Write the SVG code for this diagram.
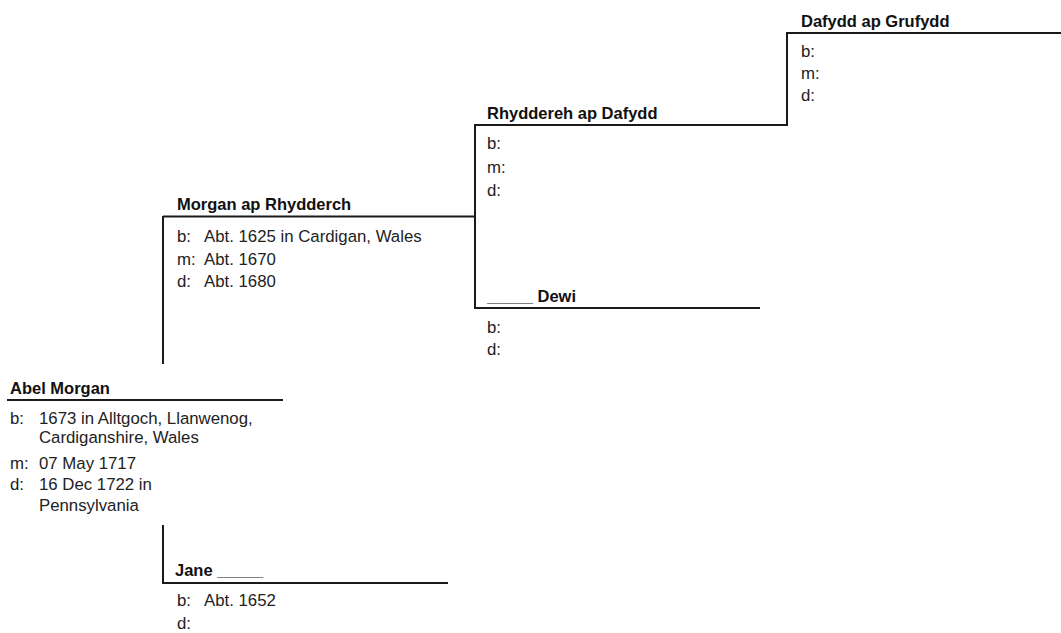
<svg xmlns="http://www.w3.org/2000/svg" width="1061" height="633" viewBox="0 0 1061 633">
<style>
.bg{fill:#ffffff}
.name{font-family:"Liberation Sans",Arial,sans-serif;font-weight:bold;font-size:16.5px;fill:#111}
.det{font-family:"Liberation Sans",Arial,sans-serif;font-size:16.8px;fill:#222}
.ln{stroke:#1a1a1a;stroke-width:2;fill:none}
</style>
<rect class="bg" x="0" y="0" width="1061" height="633"/>
<g id="connectors">
<line class="ln" x1="163" y1="216" x2="163" y2="364"/>
<line class="ln" x1="163" y1="525" x2="163" y2="584"/>
<line class="ln" x1="475" y1="124" x2="475" y2="309"/>
<line class="ln" x1="787" y1="32" x2="787" y2="126"/>
</g>
<g id="abel">
<line class="ln" x1="7" y1="400" x2="283" y2="400"/>
<text class="name" x="10" y="394">Abel Morgan</text>
<text class="det" x="10" y="424">b:</text>
<text class="det" x="39" y="424">1673 in Alltgoch, Llanwenog,</text>
<text class="det" x="39" y="443">Cardiganshire, Wales</text>
<text class="det" x="10" y="469">m:</text>
<text class="det" x="39" y="469">07 May 1717</text>
<text class="det" x="10" y="490">d:</text>
<text class="det" x="39" y="490">16 Dec 1722 in</text>
<text class="det" x="39" y="511">Pennsylvania</text>
</g>
<g id="morgan">
<line class="ln" x1="163" y1="216.5" x2="475" y2="216.5"/>
<text class="name" x="177" y="210">Morgan ap Rhydderch</text>
<text class="det" x="177" y="242">b:</text>
<text class="det" x="204" y="242">Abt. 1625 in Cardigan, Wales</text>
<text class="det" x="177" y="265">m:</text>
<text class="det" x="204" y="265">Abt. 1670</text>
<text class="det" x="177" y="287">d:</text>
<text class="det" x="204" y="287">Abt. 1680</text>
</g>
<g id="jane">
<line class="ln" x1="163" y1="583" x2="448" y2="583"/>
<text class="name" x="175" y="576">Jane _____</text>
<text class="det" x="177" y="606">b:</text>
<text class="det" x="204" y="606">Abt. 1652</text>
<text class="det" x="177" y="629">d:</text>
</g>
<g id="rhyddereh">
<line class="ln" x1="475" y1="125" x2="787" y2="125"/>
<text class="name" x="487" y="119">Rhyddereh ap Dafydd</text>
<text class="det" x="487" y="149">b:</text>
<text class="det" x="487" y="173">m:</text>
<text class="det" x="487" y="196">d:</text>
</g>
<g id="dewi">
<line class="ln" x1="475" y1="308" x2="760" y2="308"/>
<text class="name" x="487" y="302">_____ Dewi</text>
<text class="det" x="487" y="333">b:</text>
<text class="det" x="487" y="355">d:</text>
</g>
<g id="dafydd">
<line class="ln" x1="787" y1="33" x2="1061" y2="33"/>
<text class="name" x="801" y="27">Dafydd ap Grufydd</text>
<text class="det" x="801" y="57">b:</text>
<text class="det" x="801" y="79">m:</text>
<text class="det" x="801" y="101">d:</text>
</g>
</svg>
